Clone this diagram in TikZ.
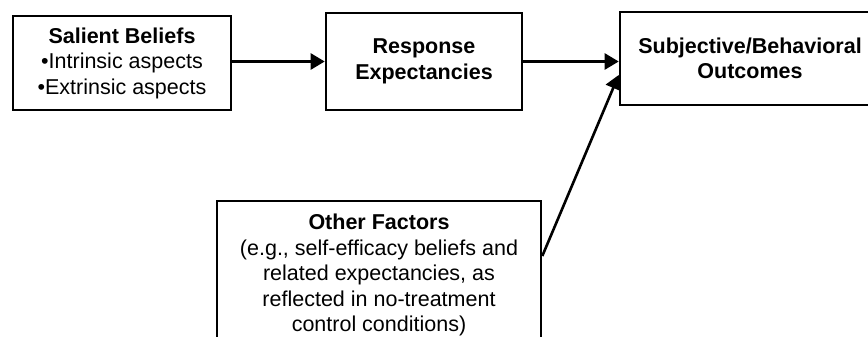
\documentclass[tikz,border=0pt]{standalone}
\usepackage{fontspec}
\setmainfont{Liberation Sans}
\usepackage{tikz}
\usetikzlibrary{positioning, arrows.meta, calc}

\begin{document}
\begin{tikzpicture}[x=1pt, y=-1pt,
          bx/.style={rectangle, draw, line width=2.6pt, inner sep=0pt,
                     align=center, font=\fontsize{21.5}{25.5}\selectfont},
          arr/.style={-{Triangle[length=14pt, width=16pt]}, line width=2.6pt}
        ]
        \useasboundingbox (0,0) rectangle (868,337);
        \clip (0,0) rectangle (868,337);
        % TOP ROW
        \node[bx, minimum width=218pt, minimum height=94pt]
              (sal)  at (122, 63)
              {\textbf{Salient Beliefs}\\•Intrinsic aspects\\•Extrinsic aspects};
        \node[bx, minimum width=196pt, minimum height=97pt]
              (resp) at (424, 61.5) {\textbf{Response}\\\textbf{Expectancies}};
        \node[bx, minimum width=260pt, minimum height=93pt]
              (out)  at (750, 58.5)
              {\textbf{Subjective/Behavioral}\\\textbf{Outcomes}};

        % OTHER FACTORS
        \node[bx, minimum width=324pt, minimum height=148pt]
              (oth)  at (379, 275)
              {\textbf{Other Factors}\\(e.g., self-efficacy beliefs and\\
               related expectancies, as\\reflected in no-treatment\\
               control conditions)};

        \draw[arr] (sal.east |- resp.west) -- (resp.west);
        \draw[arr] (resp.east) -- (resp.east -| out.west);
        \draw[arr] ($(oth.east)+(0,-19)$) -- ($(out.west)+(0,16.5)$);
      \end{tikzpicture}
\end{document}
